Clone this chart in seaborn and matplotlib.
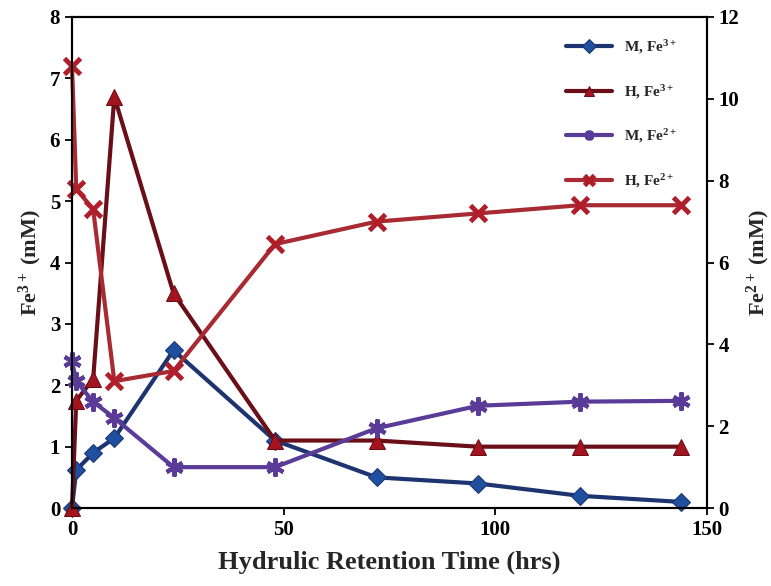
import matplotlib
matplotlib.use("Agg")
import matplotlib.pyplot as plt
import seaborn as sns
import pandas as pd

sns.set_style("white")
plt.rcParams['font.family'] = ['Liberation Serif', 'DejaVu Serif']
plt.rcParams['mathtext.fontset'] = 'custom'
plt.rcParams['mathtext.rm'] = 'Liberation Serif:bold'
plt.rcParams['mathtext.it'] = 'Liberation Serif:bold'
plt.rcParams['mathtext.bf'] = 'Liberation Serif:bold'

hrt = [0, 1, 5, 10, 24, 48, 72, 96, 120, 144]
m_fe3 = [0.0, 0.62, 0.9, 1.14, 2.57, 1.1, 0.5, 0.4, 0.2, 0.1]
h_fe3 = [0.0, 1.75, 2.1, 6.7, 3.5, 1.1, 1.1, 1.0, 1.0, 1.0]
m_fe2 = [3.6, 3.1, 2.6, 2.2, 1.0, 1.0, 1.95, 2.5, 2.6, 2.62]
h_fe2 = [10.8, 7.8, 7.3, 3.1, 3.35, 6.45, 7.0, 7.2, 7.4, 7.4]
labels = ["M, Fe$^{3+}$", "H, Fe$^{3+}$", "M, Fe$^{2+}$", "H, Fe$^{2+}$"]

fig = plt.figure(figsize=(7.71, 5.86), dpi=100)
ax = fig.add_axes([0.0934, 0.133, 0.823, 0.838])
ax2 = ax.twinx()

df = pd.DataFrame({"hrt": hrt, "m3": m_fe3, "h3": h_fe3, "m2": m_fe2, "h2": h_fe2})

sns.lineplot(data=df, x="hrt", y="m3", ax=ax, color="#1d3470", lw=3,
             marker="D", markersize=9, markerfacecolor="#1f4f9f",
             markeredgecolor="#1d3470", label=labels[0], legend=False, clip_on=False)
sns.lineplot(data=df, x="hrt", y="h3", ax=ax, color="#6a0f18", lw=3,
             marker="^", markersize=12, markerfacecolor="#a3141f",
             markeredgecolor="#6a0f18", label=labels[1], legend=False, clip_on=False)
sns.lineplot(data=df, x="hrt", y="m2", ax=ax2, color="#5a3b98", lw=3,
             marker=(6, 2, 0), markersize=13, markeredgewidth=3,
             markeredgecolor="#5a3b98", label=labels[2], legend=False, clip_on=False)
sns.lineplot(data=df, x="hrt", y="h2", ax=ax2, color="#a82a33", lw=3,
             marker="x", markersize=11, markeredgewidth=3.5,
             markeredgecolor="#b01e2a", label=labels[3], legend=False, clip_on=False)

ax.set_xlim(0, 150)
ax.set_ylim(0, 8)
ax2.set_ylim(0, 12)
ax.set_xticks([0, 50, 100, 150])
ax.set_yticks(range(0, 9))
ax2.set_yticks(range(0, 13, 2))

for a in (ax, ax2):
    for s in a.spines.values():
        s.set_color("black")
        s.set_linewidth(1.5)
    a.tick_params(direction="out", length=5, width=1.3, labelsize=15, colors="black")
    for t in a.get_xticklabels() + a.get_yticklabels():
        t.set_fontweight("bold")
ax.tick_params(axis="both", left=True, bottom=True)
ax2.tick_params(axis="y", right=True)

ax.set_xlabel("Hydrulic Retention Time (hrs)", fontsize=19, fontweight="bold", labelpad=8)
ax.set_ylabel("Fe$^{3+}$ (mM)", fontsize=16, fontweight="bold", labelpad=4)
ax2.set_ylabel("Fe$^{2+}$ (mM)", fontsize=16, fontweight="bold", labelpad=4)

h1, l1 = ax.get_legend_handles_labels()
h2, l2 = ax2.get_legend_handles_labels()
leg = ax2.legend(h1 + h2, l1 + l2, loc="upper right", bbox_to_anchor=(0.975, 0.985),
                 frameon=False, labelspacing=1.75, handlelength=3.0,
                 prop={"family": "Liberation Serif", "weight": "bold", "size": 11})
for h in leg.legend_handles:
    h.set_markersize(7)

fig.savefig("out.png", dpi=100)
